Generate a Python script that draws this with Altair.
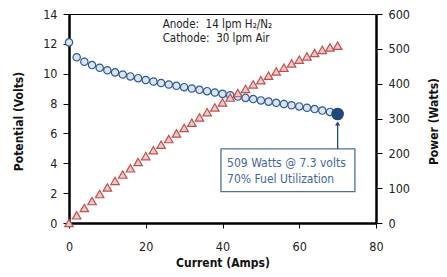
import altair as alt
import pandas as pd

# ---- data ----
current = [0, 2, 4, 6, 8, 10, 12, 14, 16, 18, 20, 22, 24, 26, 28, 30, 32, 34,
           36, 38, 40, 42, 44, 46, 48, 50, 52, 54, 56, 58, 60, 62, 64, 66, 68, 70]
volts = [12.1, 11.1, 10.8, 10.58, 10.4, 10.23, 10.09, 9.95, 9.82, 9.7, 9.58, 9.48,
         9.38, 9.28, 9.19, 9.1, 9.01, 8.92, 8.83, 8.74, 8.65, 8.56, 8.47, 8.38,
         8.3, 8.21, 8.13, 8.05, 7.97, 7.89, 7.81, 7.72, 7.63, 7.53, 7.44, 7.3]
watts = [0, 22, 43, 63, 83, 102, 121, 139, 157, 175, 192, 209, 225, 241, 257, 273,
         288, 303, 318, 332, 346, 360, 373, 385, 398, 410, 423, 435, 446, 458, 469,
         478, 488, 497, 504, 509]

x_ticks = [0, 20, 40, 60, 80]
v_ticks = [0, 2, 4, 6, 8, 10, 12, 14]
w_ticks = [0, 100, 200, 300, 400, 500, 600]

peak_current = [70]
peak_volts = [7.3]

note_lines = ["509 Watts @ 7.3 volts", "70% Fuel Utilization"]
note_x = [41.2, 41.2]
note_y = [4.02, 2.95]
box = {"x": [39.6], "x2": [74.5], "y": [4.96], "y2": [2.1]}
arrow = {"x": [70], "y": [4.96], "y2": [6.72]}

cond_lines = ["Anode:\u00a0\u00a014 lpm H\u2082/N\u2082", "Cathode:\u00a0\u00a030 lpm Air"]
cond_x = [24.4, 24.4]
cond_y = [13.26, 12.3]

FONT = "DejaVu Sans Condensed, DejaVu Sans"

df = pd.DataFrame({"current": current, "volts": volts, "watts": watts})
peak_df = pd.DataFrame({"current": peak_current, "volts": peak_volts})
note_df = pd.DataFrame({"t": note_lines, "x": note_x, "y": note_y})
box_df = pd.DataFrame(box)
arrow_df = pd.DataFrame(arrow)
cond_df = pd.DataFrame({"t": cond_lines, "x": cond_x, "y": cond_y})

xscale = alt.Scale(domain=[0, 80], nice=False)
vscale = alt.Scale(domain=[0, 14], nice=False)
wscale = alt.Scale(domain=[0, 600], nice=False)

common = dict(grid=False, labelOverlap=False, labelFlush=False,
              domainWidth=2.5, domainColor="black", tickColor="black")

xaxis = alt.Axis(values=x_ticks, title="Current (Amps)", tickSize=5,
                 labelPadding=12, titleY=39, titleBaseline="middle", **common)
vaxis = alt.Axis(values=v_ticks, title="Potential (Volts)", orient="left",
                 tickSize=6, labelPadding=6, titleX=-51, titleY=107,
                 titleBaseline="middle", titleAlign="center", **common)
waxis = alt.Axis(values=w_ticks, title="Power (Watts)", orient="right",
                 tickSize=6, labelPadding=6, titleX=57, titleY=107, titleAngle=270,
                 titleBaseline="middle", titleAlign="center", **common)


def xq(f):
    return alt.X(f, type="quantitative", scale=xscale, axis=xaxis)


def yq(f):
    return alt.Y(f, type="quantitative", scale=vscale, axis=vaxis)


circles = alt.Chart(df).mark_point(
    shape="circle", filled=True, fill="#dbe5f1", stroke="#2e5a94",
    strokeWidth=1.2, size=54, opacity=1
).encode(x=xq("current"), y=yq("volts"))

peak = alt.Chart(peak_df).mark_circle(size=160, color="#1f497d", opacity=1).encode(
    x=xq("current"), y=yq("volts"))

boxm = alt.Chart(box_df).mark_rect(fill="white", stroke="#4f6f9f", strokeWidth=1.3).encode(
    x=xq("x"), x2="x2:Q", y=yq("y"), y2="y2:Q")

notes = alt.Chart(note_df).mark_text(
    align="left", baseline="middle", font=FONT, fontSize=12, color="#3f66a3"
).encode(x=xq("x"), y=yq("y"), text="t:N")

arrow_line = alt.Chart(arrow_df).mark_rule(color="#1f497d", strokeWidth=1.3).encode(
    x=xq("x"), y=yq("y"), y2="y2:Q")

arrow_head = alt.Chart(arrow_df).mark_point(
    shape="M-0.6,0.9L0,0L0.6,0.9", filled=False, stroke="#1f497d",
    strokeWidth=1.3, size=40, opacity=1
).encode(x=xq("x"), y=yq("y2"))

conds = alt.Chart(cond_df).mark_text(
    align="left", baseline="middle", font=FONT, fontSize=11.5, color="#222222"
).encode(x=xq("x"), y=yq("y"), text="t:N")

left = alt.layer(circles, boxm, notes, arrow_line, arrow_head, peak, conds)

triangles = alt.Chart(df).mark_point(
    shape="triangle-up", filled=True, fill="#f2c6c5", stroke="#c0504d",
    strokeWidth=1.2, size=72, opacity=1
).encode(x=xq("current"), y=alt.Y("watts:Q", scale=wscale, axis=waxis))

chart = alt.layer(left, triangles).resolve_scale(y="independent").properties(
    width=307, height=209,
    autosize=alt.AutoSizeParams(type="none"),
    padding={"left": 61, "top": 6, "right": 63, "bottom": 46},
).configure_view(stroke="black", strokeWidth=1).configure_axis(
    labelFont=FONT, titleFont=FONT, labelFontSize=12.5, titleFontSize=12,
    titleFontWeight="bold", labelColor="#222222", titleColor="#111111"
)

chart.save("out.html", embed_options={"renderer": "svg", "actions": False})
